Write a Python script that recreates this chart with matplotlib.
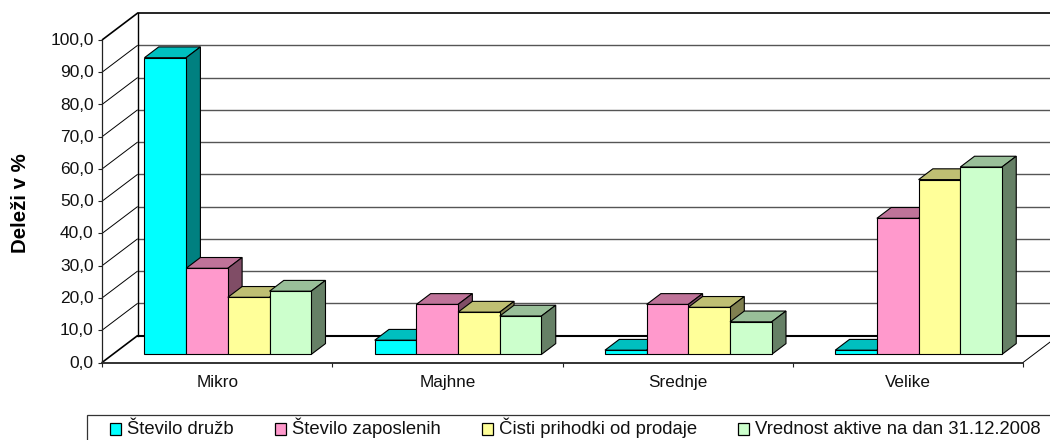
import matplotlib
matplotlib.use("Agg")
import matplotlib.pyplot as plt
from matplotlib.patches import Patch, Rectangle
from matplotlib.transforms import Affine2D
import numpy as np

plt.rcParams["font.family"] = ["Liberation Sans", "DejaVu Sans"]

categories = ["Mikro", "Majhne", "Srednje", "Velike"]
series_names = [
    "Število družb",
    "Število zaposlenih",
    "Čisti prihodki od prodaje",
    "Vrednost aktive na dan 31.12.2008",
]
druzbe = [92.0, 4.4, 1.3, 1.3]
zaposleni = [26.7, 15.5, 15.5, 42.2]
prihodki = [17.7, 13.1, 14.6, 54.2]
aktiva = [19.6, 11.9, 10.1, 58.1]
series_values = [druzbe, zaposleni, prihodki, aktiva]
face_colors = ["#00FFFF", "#FF99CC", "#FFFF99", "#CCFFCC"]
top_colors = ["#00BFBF", "#BF7399", "#BFBF73", "#99BF99"]
side_colors = ["#008080", "#804D66", "#808050", "#668066"]
y_ticks = np.arange(0, 101, 10)

# depth of the box, in data units (the chart is an oblique projection)
DEPTH_X = 35.7 / 230.3
DEPTH_Y = 27.0 / 3.227
BAR_WIDTH = 41.7 / 230.3
BAR_D0 = 0.3
BAR_D1 = 0.7


def pt(x, y, d):
    return (x + d * DEPTH_X, y + d * DEPTH_Y)


W, H = 1050, 440
fig = plt.figure(figsize=(W / 100, H / 100), dpi=100, facecolor="white")
ax = fig.add_axes([102 / W, (H - 362.5) / H, 921 / W, 322.5 / H])
ax.set_xlim(0, len(categories))
ax.set_ylim(0, 100)
ax.patch.set_visible(False)

# walls and floor
back_right = len(categories) + DEPTH_X
for t in y_ticks:
    p0, p1 = pt(0, t, 0), pt(0, t, 1)
    top = t == 100
    floor = t == 0
    ax.plot([p0[0], p1[0]], [p0[1], p1[1]], color="black", lw=1.2 if top or floor else 0.7,
            clip_on=False, zorder=1, solid_capstyle="butt")
    lw = 1.5 if floor else (1.2 if top else 1.0)
    col = "black" if floor or top else "#555555"
    ax.plot([p1[0], back_right], [p1[1], p1[1]], color=col, lw=lw, clip_on=False, zorder=1)
ax.plot([DEPTH_X, DEPTH_X], [DEPTH_Y, 100 + DEPTH_Y], color="black", lw=1.0, clip_on=False, zorder=1)
ax.plot([len(categories), back_right], [0, DEPTH_Y], color="black", lw=0.7, clip_on=False, zorder=1)

# bars, left to right so that the next bar covers the side of the one before
z = 2
for i in range(len(categories)):
    for j, values in enumerate(series_values):
        v = values[i]
        x0 = i + 0.5 + (j - 2) * BAR_WIDTH
        x1 = x0 + BAR_WIDTH
        top_face = [pt(x0, v, BAR_D0), pt(x1, v, BAR_D0), pt(x1, v, BAR_D1), pt(x0, v, BAR_D1)]
        side_face = [pt(x1, 0, BAR_D0), pt(x1, v, BAR_D0), pt(x1, v, BAR_D1), pt(x1, 0, BAR_D1)]
        ax.fill(*zip(*top_face), facecolor=top_colors[j], edgecolor="black", lw=0.8, zorder=z, clip_on=False)
        ax.fill(*zip(*side_face), facecolor=side_colors[j], edgecolor="black", lw=0.8, zorder=z, clip_on=False)
        fx, fy = pt(x0, 0, BAR_D0)
        ax.bar(fx, v, BAR_WIDTH, bottom=fy, align="edge", color=face_colors[j],
               edgecolor="black", lw=0.8, zorder=z, clip_on=False)
        z += 1

for s in ["top", "right"]:
    ax.spines[s].set_visible(False)
ax.spines["left"].set_color("#222222")
ax.spines["left"].set_linewidth(0.9)
ax.spines["bottom"].set_color("#222222")
ax.spines["bottom"].set_linewidth(1.3)

ax.set_yticks(y_ticks)
ax.set_yticklabels([f"{t:.1f}".replace(".", ",") for t in y_ticks], fontsize=12.5, color="#111111")
ax.tick_params(axis="y", length=3, width=0.8, color="#222222", pad=3)
up_1px = Affine2D().translate(0, 1)
for label in ax.get_yticklabels():
    label.set_transform(label.get_transform() + up_1px)
ax.set_xticks(np.arange(len(categories) + 1))
ax.set_xticklabels([])
ax.tick_params(axis="x", which="major", length=3, width=0.8, color="#222222")
ax.set_xticks(np.arange(len(categories)) + 0.5, minor=True)
ax.set_xticklabels(categories, minor=True, fontsize=12.3, color="#111111")
ax.tick_params(axis="x", which="minor", length=0, pad=9)

fig.text(20 / W, (H - 203) / H, "Deleži v %", rotation=90, ha="center", va="center",
         fontsize=14.7, fontweight="bold", color="black")

# legend box runs off the right and bottom of the picture
fig.add_artist(Rectangle((87.3 / W, -10 / H), 1000 / W, (H - 414.5 + 10) / H,
                         transform=fig.transFigure, facecolor="white", edgecolor="#333333", lw=0.9))
handles = [Patch(facecolor=c, edgecolor="black", lw=0.9) for c in face_colors]
leg = fig.legend(handles, series_names, ncol=4, loc="upper left",
                 bbox_to_anchor=(110 / W, (H - 417) / H), frameon=False, fontsize=13.35,
                 borderpad=0, borderaxespad=0, handlelength=0.593, handleheight=0.593,
                 handletextpad=0.324, columnspacing=2.22, labelcolor="#111111")
for h in leg.legend_handles:
    h.set_y(h.get_y() - 1.5)

fig.savefig("out.png", dpi=100)
